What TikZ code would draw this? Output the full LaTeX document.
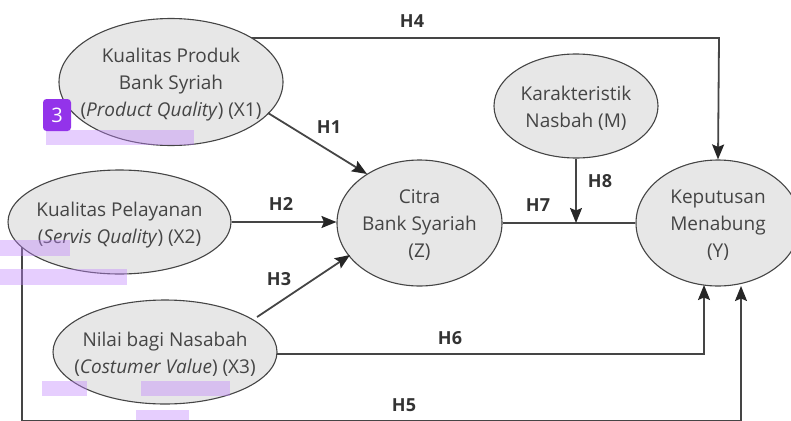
\documentclass[tikz,border=0pt]{standalone}
\usepackage{fontspec}
\setmainfont{Open Sans}
\usetikzlibrary{shapes.geometric,arrows.meta,backgrounds}
\definecolor{ink}{HTML}{454545}
\definecolor{fillgrey}{HTML}{E7E7E7}
\definecolor{badge}{HTML}{9333EA}
\definecolor{mark}{HTML}{C084FC}
\newcommand{\txtlines}[1]{\raisebox{-6.5pt}[0pt][0pt]{\begin{tabular}{@{}c@{}}#1\end{tabular}}}
\tikzset{
  var/.style={ellipse,draw=ink,line width=1.1pt,fill=fillgrey,inner sep=-40pt,
    text=ink,font=\fontsize{19}{27}\selectfont},
  conn/.style={draw=ink,line width=1.8pt},
  arr/.style={conn,-{Stealth[length=15pt,width=12pt,inset=2.5pt,color=black!85]}},
  hlabel/.style={text=black!80,font=\fontsize{18}{20}\selectfont\bfseries,inner sep=0pt},
  hl/.style={fill=mark,fill opacity=0.4,draw=none},
}
\begin{document}
\begin{tikzpicture}[x=1pt,y=-1pt]
\path[clip,use as bounding box] (0,0) rectangle (791,420);
\node[var,minimum width=224pt,minimum height=127pt] (x1) at (171,82) {\txtlines{Kualitas Produk\\Bank Syriah\\(\textit{Product Quality}) (X1)}};
\node[var,minimum width=223pt,minimum height=104pt] (x2) at (119.5,222) {\txtlines{Kualitas Pelayanan\\(\textit{Servis Quality}) (X2)}};
\node[var,minimum width=224pt,minimum height=104pt] (x3) at (165,352) {\txtlines{Nilai bagi Nasabah\\(\textit{Costumer Value}) (X3)}};
\node[var,minimum width=165pt,minimum height=126pt] (z) at (419.5,223) {\txtlines{Citra\\Bank Syariah\\(Z)}};
\node[var,minimum width=164pt,minimum height=104pt] (m) at (576,106) {\txtlines{Karakteristik\\Nasbah (M)}};
\node[var,minimum width=164pt,minimum height=126pt] (y) at (718,223) {\txtlines{Keputusan\\Menabung\\(Y)}};
\coordinate (c4) at (719,38);
\coordinate (j7) at (576,223);
\coordinate (c5a) at (22,420.7);
\coordinate (c5b) at (741,420.7);
\coordinate (e5) at (741,286);
\coordinate (c6) at (704,354);
\coordinate (e6) at (704,285);
\coordinate (s1) at (268,113);
\coordinate (e1) at (367,174);
\coordinate (s3) at (257,317);
\coordinate (e3) at (350,255);
\begin{scope}[on background layer]
\draw[arr] (x1.center |- c4) -- (c4) -- (y.north);
\draw[conn] (x2.center -| c5a) -- (c5a) -- (c5b);
\draw[arr] (c5b) -- (e5);
\draw[arr] (x3.center |- c6) -- (c6) -- (e6);
\draw[conn] (z) -- (y);
\end{scope}
\draw[arr] (s1) -- (e1);
\draw[arr] (s3) -- (e3);
\draw[arr] (x2.east) -- (x2.east -| z.west);
\draw[arr] (m.south) -- (j7);
\node[hlabel] (h1) at (329,127) {H1};
\node[hlabel] (h2) at (281,204) {H2};
\node[hlabel] (h3) at (279,279) {H3};
\node[hlabel] (h4) at (412,21) {H4};
\node[hlabel] (h5) at (404,405) {H5};
\node[hlabel] (h6) at (450,338) {H6};
\node[hlabel] (h7) at (538,205) {H7};
\node[hlabel] (h8) at (600,181) {H8};
\fill[hl] (46,130) rectangle (194,145);
\fill[hl] (0,240) rectangle (70,256);
\fill[hl] (0,269) rectangle (127,285);
\fill[hl] (42,381) rectangle (87,396);
\fill[hl] (141,381) rectangle (230,396);
\fill[hl] (136,410) rectangle (189,420);
\node[fill=badge,rounded corners=3.5pt,minimum width=28pt,minimum height=32pt,inner sep=0pt,text=white,font=\fontsize{20}{22}\selectfont] (b) at (57,115) {3};
\end{tikzpicture}
\end{document}
